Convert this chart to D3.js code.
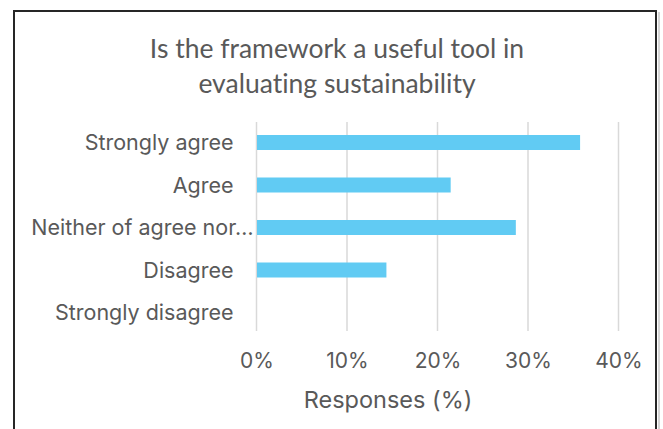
<!DOCTYPE html>
<html>
<head>
<meta charset="utf-8">
<script src="https://cdn.jsdelivr.net/npm/d3@7"></script>
<style>
  html, body { margin: 0; padding: 0; background: #fff; }
  svg { display: block; }
  text { font-variant-ligatures: none; }
</style>
</head>
<body>
<svg id="chart" width="663" height="429"></svg>
<script>
// Survey answers and their share of responses (%)
const categories = ["Strongly agree", "Agree", "Neither of agree nor\u2026", "Disagree", "Strongly disagree"];
const responses = [35.7, 21.4, 28.6, 14.3, 0];
const tickValues = [0, 10, 20, 30, 40];
const titleLines = ["Is the framework a useful tool in", "evaluating sustainability"];
const axisTitle = "Responses (%)";

const svg = d3.select("#chart");
const textColor = "#595959";
const labelFont = "Inter, 'Open Sans', sans-serif";

// Frame around the chart area
svg.append("line").attr("x1", 659).attr("x2", 659).attr("y1", 12).attr("y2", 429)
  .attr("stroke", "#c8c8c8").attr("stroke-width", 1.5);
svg.append("path")
  .attr("d", "M14,430 L14,11 L656,11 L656,430")
  .attr("fill", "none").attr("stroke", "#262626").attr("stroke-width", 2);

// Title
svg.append("g").selectAll("text").data(titleLines).join("text")
  .attr("x", 337).attr("y", (d, i) => 58 + i * 35)
  .attr("text-anchor", "middle")
  .attr("font-family", "Lato, 'Open Sans', sans-serif")
  .attr("font-size", 26.5)
  .attr("fill", textColor)
  .text(d => d);

const x = d3.scaleLinear().domain([0, 40]).range([256.5, 618.5]);
const y = d3.scaleBand().domain(categories).range([121.25, 333.75]).paddingInner(0.647).paddingOuter(0.3235);

// Vertical gridlines
svg.append("g").selectAll("line").data(tickValues).join("line")
  .attr("x1", d => x(d)).attr("x2", d => x(d))
  .attr("y1", 122).attr("y2", 331)
  .attr("stroke", "#d9d9d9").attr("stroke-width", 1.5);

// Bars
svg.append("g").selectAll("rect").data(responses).join("rect")
  .attr("x", x(0) + 0.5)
  .attr("y", (d, i) => y(categories[i]))
  .attr("width", d => Math.max(0, x(d) - x(0)))
  .attr("height", y.bandwidth())
  .attr("fill", "#61CBF3");

// Category axis (left); a shortened label runs up to the axis line
const yAxis = svg.append("g")
  .attr("transform", `translate(${x(0)},0)`)
  .call(d3.axisLeft(y).tickSize(0).tickPadding(23));
yAxis.select(".domain").remove();
yAxis.selectAll("text")
  .attr("font-family", labelFont).attr("font-size", 21.5).attr("fill", textColor)
  .attr("dy", "0.36em")
  .attr("x", d => d.endsWith("\u2026") ? -3 : -23);

// Value axis (bottom)
const xAxis = svg.append("g")
  .attr("transform", "translate(0,331)")
  .call(d3.axisBottom(x).tickValues(tickValues).tickFormat(d => d + "%").tickSize(0).tickPadding(22));
xAxis.select(".domain").remove();
xAxis.selectAll("text")
  .attr("font-family", labelFont).attr("font-size", 21).attr("fill", textColor)
  .attr("dy", "0.71em");

// Axis title
svg.append("text")
  .attr("x", 388).attr("y", 408)
  .attr("text-anchor", "middle")
  .attr("font-family", labelFont).attr("font-size", 23.5)
  .attr("fill", textColor)
  .text(axisTitle);
</script>
</body>
</html>
